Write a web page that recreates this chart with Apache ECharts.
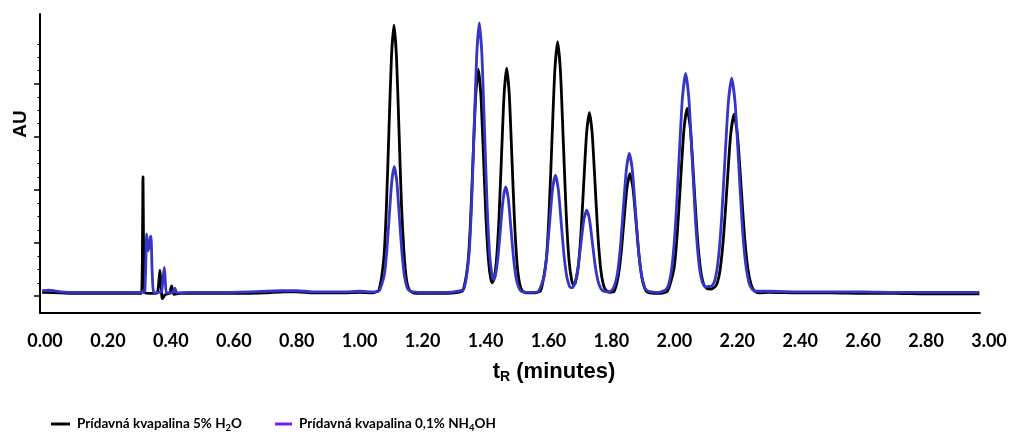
<!DOCTYPE html>
<html><head><meta charset="utf-8">
<script src="https://cdn.jsdelivr.net/npm/echarts@6/dist/echarts.min.js"></script>
<style>html,body{margin:0;padding:0;background:#fff}#c{width:1013px;height:432px}</style>
</head><body><div id="c"></div>
<script>
const seriesNames = ['Prídavná kvapalina 5% H₂O', 'Prídavná kvapalina 0,1% NH₄OH'];
const xTickValues = [0, 0.2, 0.4, 0.6, 0.8, 1.0, 1.2, 1.4, 1.6, 1.8, 2.0, 2.2, 2.4, 2.6, 2.8, 3.0];
const xTickLabels = ['0.00','0.20','0.40','0.60','0.80','1.00','1.20','1.40','1.60','1.80','2.00','2.20','2.40','2.60','2.80','3.00'];
const yMajorTicks = [0, 1, 2, 3, 4];
const yMinorTicks = [0.25,0.5,0.75,1.25,1.5,1.75,2.25,2.5,2.75,3.25,3.5,3.75,4.25,4.5,4.75];

// [retention time (min), signal (AU)]
const blackTrace = [
[-0.010,0.07],[0.05,0.06],[0.10,0.05],[0.15,0.05],[0.20,0.05],[0.25,0.05],[0.30,0.05],[0.306,0.05],
[0.3085,0.6],[0.3107,2.25],[0.3125,0.9],[0.3145,0.2],[0.317,0.06],
[0.340,0.05],[0.356,0.06],[0.3615,0.3],[0.3647,0.49],[0.3675,0.25],[0.3705,0.0],[0.373,-0.05],[0.377,0.0],[0.385,0.04],
[0.396,0.05],[0.3995,0.15],[0.4019,0.19],[0.405,0.09],[0.409,0.03],[0.415,0.04],[0.43,0.05],
[0.50,0.05],[0.60,0.05],[0.70,0.06],[0.76,0.08],[0.80,0.08],[0.85,0.06],[0.95,0.06],[1.00,0.07],[1.04,0.06],
[1.0607,0.11],[1.0767,0.73],[1.0847,1.69],[1.0927,3.12],[1.1007,4.51],[1.1087,5.11],[1.1167,4.51],[1.1247,3.12],[1.1327,1.69],[1.1407,0.80],[1.1487,0.30],[1.1567,0.12],[1.17,0.06],
[1.20,0.05],[1.25,0.05],[1.30,0.06],
[1.3273,0.10],[1.3438,0.62],[1.3521,1.42],[1.3603,2.62],[1.3686,3.78],[1.3768,4.28],[1.3851,3.78],[1.3933,2.62],[1.4016,1.42],[1.4098,0.63],[1.416,0.34],[1.421,0.25],[1.427,0.32],
[1.434,0.64],[1.4423,1.43],[1.4505,2.63],[1.4588,3.80],[1.467,4.30],[1.4753,3.80],[1.4835,2.63],[1.4918,1.43],[1.500,0.62],[1.508,0.24],[1.5165,0.10],[1.53,0.06],[1.55,0.06],
[1.575,0.10],[1.593,0.69],[1.602,1.59],[1.611,2.93],[1.620,4.24],[1.629,4.80],[1.638,4.24],[1.647,2.93],[1.656,1.59],[1.665,0.69],[1.674,0.29],[1.680,0.21],[1.685,0.24],
[1.694,0.52],[1.703,1.16],[1.712,2.12],[1.721,3.06],[1.730,3.46],[1.739,3.06],[1.748,2.12],[1.757,1.16],[1.766,0.51],[1.775,0.20],[1.784,0.10],[1.795,0.07],
[1.808,0.08],[1.821,0.35],[1.8305,0.78],[1.840,1.42],[1.8495,2.04],[1.859,2.31],[1.8685,2.04],[1.878,1.42],[1.8875,0.78],[1.897,0.35],[1.9065,0.14],[1.916,0.07],[1.95,0.05],
[1.978,0.09],[1.999,0.52],[2.0095,1.18],[2.020,2.17],[2.0305,3.13],[2.041,3.54],[2.0515,3.13],[2.062,2.17],[2.0725,1.18],[2.083,0.52],[2.0935,0.22],[2.104,0.14],[2.114,0.13],
[2.124,0.15],[2.135,0.22],[2.146,0.51],[2.157,1.15],[2.168,2.10],[2.179,3.03],[2.190,3.43],[2.201,3.03],[2.212,2.10],[2.223,1.15],[2.234,0.51],[2.245,0.20],[2.256,0.09],[2.27,0.06],
[2.30,0.07],[2.40,0.06],[2.50,0.06],[2.60,0.05],[2.70,0.05],[2.80,0.04],[2.90,0.04],[2.97,0.04]
];

const blueTrace = [
[-0.010,0.10],[0.01,0.11],[0.05,0.08],[0.10,0.07],[0.20,0.07],[0.30,0.07],[0.314,0.07],
[0.317,0.15],[0.3195,0.6],[0.3224,1.17],[0.3255,0.85],[0.329,0.9],[0.3335,1.1],[0.3361,1.13],[0.339,0.6],[0.342,0.18],[0.346,0.06],[0.36,0.07],
[0.370,0.09],[0.3745,0.35],[0.3784,0.54],[0.3815,0.3],[0.385,0.06],[0.395,0.06],[0.405,0.07],[0.4095,0.12],[0.4124,0.15],[0.4155,0.09],[0.42,0.06],[0.45,0.07],
[0.55,0.07],[0.65,0.08],[0.75,0.10],[0.80,0.10],[0.85,0.08],[0.95,0.08],[1.00,0.09],[1.04,0.08],
[1.0617,0.10],[1.0777,0.39],[1.0857,0.84],[1.0937,1.51],[1.1017,2.16],[1.1097,2.44],[1.1177,2.16],[1.1257,1.51],[1.1337,0.84],[1.1417,0.39],[1.1497,0.17],[1.1577,0.10],[1.17,0.08],
[1.20,0.07],[1.25,0.07],[1.30,0.08],
[1.3305,0.13],[1.347,0.76],[1.3553,1.72],[1.3635,3.15],[1.3718,4.55],[1.380,5.15],[1.3883,4.55],[1.3965,3.15],[1.4048,1.72],[1.413,0.77],[1.4213,0.36],[1.425,0.31],[1.431,0.38],
[1.4393,0.73],[1.4475,1.28],[1.4558,1.83],[1.464,2.06],[1.4723,1.83],[1.4805,1.28],[1.4888,0.72],[1.497,0.34],[1.5053,0.16],[1.5135,0.09],[1.53,0.07],[1.55,0.07],
[1.568,0.09],[1.586,0.37],[1.595,0.79],[1.604,1.41],[1.613,2.02],[1.622,2.28],[1.631,2.02],[1.640,1.41],[1.649,0.79],[1.658,0.37],[1.667,0.18],[1.672,0.16],[1.6765,0.16],
[1.6855,0.28],[1.6945,0.57],[1.7035,1.01],[1.7125,1.44],[1.7215,1.62],[1.7305,1.44],[1.7395,1.01],[1.7485,0.57],[1.7575,0.28],[1.7665,0.14],[1.7755,0.09],[1.79,0.08],
[1.800,0.10],[1.8095,0.19],[1.819,0.42],[1.8285,0.92],[1.838,1.66],[1.8475,2.38],[1.857,2.69],[1.8665,2.38],[1.876,1.66],[1.8855,0.92],[1.895,0.42],[1.9045,0.18],[1.914,0.10],[1.95,0.07],
[1.973,0.12],[1.9835,0.25],[1.994,0.63],[2.0045,1.41],[2.015,2.58],[2.0255,3.71],[2.036,4.20],[2.0465,3.71],[2.057,2.58],[2.0675,1.41],[2.078,0.63],[2.0885,0.27],[2.099,0.17],[2.108,0.18],
[2.1165,0.18],[2.1275,0.27],[2.1385,0.62],[2.1495,1.38],[2.1605,2.52],[2.1715,3.63],[2.1825,4.11],[2.1935,3.63],[2.2045,2.52],[2.2155,1.38],[2.2265,0.62],[2.2375,0.25],[2.2485,0.12],[2.26,0.09],
[2.30,0.09],[2.40,0.08],[2.50,0.08],[2.60,0.08],[2.70,0.07],[2.80,0.07],[2.90,0.07],[2.97,0.07]
];

const chart = echarts.init(document.getElementById('c'), null, {renderer: 'canvas'});
const subFmt = n => n.replace('₂', '{s|2}').replace('₄', '{s|4}');
const legendFont = 'Lato, "Liberation Sans", sans-serif';
const legendText = {
  fontFamily: legendFont, fontWeight: 'bold', fontSize: 13.5, color: '#000', padding: [0, 0, 0, 2],
  rich: { s: { fontFamily: legendFont, fontWeight: 'bold', fontSize: 9.5, color: '#000', padding: [7, 0, 0, 0] } }
};
chart.setOption({
  animation: false,
  backgroundColor: '#fff',
  grid: [
    { left: 40, right: 33, top: 14, bottom: 119 },
    { left: 45, right: 24, top: 14, bottom: 119 }
  ],
  xAxis: [
    { type: 'value', gridIndex: 0, min: -0.0168, max: 2.972,
      axisLine: { show: true, onZero: false, lineStyle: { color: '#000', width: 2 } },
      axisTick: { show: false }, axisLabel: { show: false }, splitLine: { show: false } },
    { type: 'value', gridIndex: 1, min: 0, max: 3, interval: 0.2,
      axisLine: { show: false }, axisTick: { show: false }, splitLine: { show: false },
      axisLabel: { show: true, margin: 19, fontFamily: 'Lato', fontWeight: 'bold', fontSize: 18, color: '#000',
        customValues: xTickValues,
        formatter: v => { const i = xTickValues.findIndex(t => Math.abs(t - v) < 1e-6); return i >= 0 ? xTickLabels[i] : ''; } } }
  ],
  yAxis: [
    { type: 'value', gridIndex: 0, min: -0.32, max: 5.32,
      axisLine: { show: true, onZero: false, lineStyle: { color: '#000', width: 2 } },
      axisTick: { show: true, customValues: yMajorTicks, length: 6, lineStyle: { color: '#000', width: 1.5 } },
      axisLabel: { show: false }, splitLine: { show: false } },
    { type: 'value', gridIndex: 0, min: -0.32, max: 5.32, position: 'left', offset: 0,
      axisLine: { show: false, onZero: false },
      axisTick: { show: true, customValues: yMinorTicks, length: 2.5, lineStyle: { color: '#000', width: 1 } },
      axisLabel: { show: false }, splitLine: { show: false } },
    { type: 'value', gridIndex: 1, show: false, min: 0, max: 1 }
  ],
  legend: [
    { left: 46, top: 412, icon: 'rect', itemWidth: 19, itemHeight: 3, formatter: subFmt, textStyle: legendText,
      data: [{ name: seriesNames[0], itemStyle: { color: '#000' } }] },
    { left: 270, top: 412, icon: 'rect', itemWidth: 17, itemHeight: 3, formatter: subFmt, textStyle: legendText,
      data: [{ name: seriesNames[1], itemStyle: { color: '#7020ff' } }] }
  ],
  graphic: [
    { type: 'text', x: 21, y: 124, rotation: Math.PI / 2,
      style: { text: 'AU', fontFamily: '"Liberation Sans", Arial, sans-serif', fontWeight: 'bold', fontSize: 19, fill: '#000', align: 'center', verticalAlign: 'middle' } },
    { type: 'text', x: 554, y: 372,
      style: { text: 't{s|R} (minutes)', fontFamily: '"Liberation Sans", Arial, sans-serif', fontWeight: 'bold', fontSize: 22, fill: '#000', align: 'center', verticalAlign: 'middle',
        rich: { s: { fontFamily: '"Liberation Sans", Arial, sans-serif', fontWeight: 'bold', fontSize: 14, fill: '#000', padding: [10, 0, 0, 0] } } } }
  ],
  series: [
    { name: seriesNames[0], type: 'line', xAxisIndex: 0, yAxisIndex: 0, data: blackTrace, showSymbol: false, symbol: 'none',
      smooth: 0.2, lineStyle: { color: '#000', width: 2.8 }, itemStyle: { color: '#000' }, z: 2 },
    { name: seriesNames[1], type: 'line', xAxisIndex: 0, yAxisIndex: 0, data: blueTrace, showSymbol: false, symbol: 'none',
      smooth: 0.2, lineStyle: { color: '#3535c8', width: 2.8 }, itemStyle: { color: '#3535c8' }, z: 3 }
  ]
});
</script></body></html>
